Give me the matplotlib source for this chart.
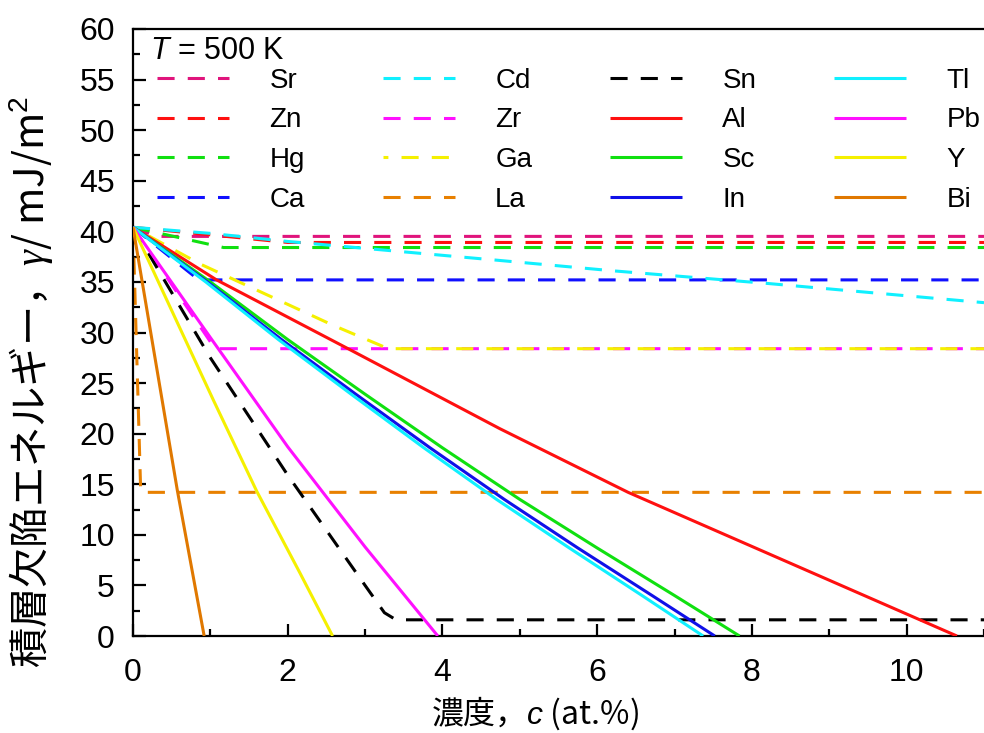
import matplotlib
matplotlib.use("Agg")
import matplotlib.pyplot as plt

plt.rcParams['font.family'] = ['Liberation Sans', 'Noto Sans CJK JP']
plt.rcParams['mathtext.fontset'] = 'custom'
plt.rcParams['mathtext.rm'] = 'Liberation Sans'
plt.rcParams['mathtext.it'] = 'Liberation Sans:italic'
plt.rcParams['mathtext.bf'] = 'Liberation Serif:italic'
plt.rcParams['mathtext.sf'] = 'Liberation Sans'

# ---------------- data (concentration c in at.%, gamma in mJ/m^2) ----------------
sr_c = [0, 0.3, 11];                 sr_g = [40.4, 39.5, 39.5]
zn_c = [0, 2.0, 11];                 zn_g = [40.4, 38.9, 38.9]
hg_c = [0, 0.35, 1.17, 11];          hg_g = [40.4, 39.8, 38.4, 38.4]
ca_c = [0, 0.85, 11];                ca_g = [40.4, 35.2, 35.2]
cd_c = [0, 1, 2, 4.7, 6.2, 8.2, 11]; cd_g = [40.4, 39.8, 39.0, 37.15, 36.1, 34.85, 32.95]
zr_c = [0, 1.06, 11];                zr_g = [40.4, 28.4, 28.4]
ga_c = [0, 0.86, 2.59, 3.3, 11];     ga_g = [40.4, 36.8, 30.7, 28.4, 28.4]
la_c = [0, 0.1, 11];                 la_g = [40.4, 14.2, 14.2]
sn_c = [0, 1.0, 2.0, 3.0, 3.25, 3.4, 11]
sn_g = [40.4, 27.5, 15.9, 5.0, 2.3, 1.6, 1.6]
al_c = [0, 1.08, 2.78, 4.74, 6.4, 10.65];  al_g = [40.4, 35.2, 28.4, 20.5, 14.2, 0]
sc_c = [0, 1, 2, 3, 4, 5, 6, 7, 7.84]
sc_g = [40.4, 35.0, 29.3, 23.9, 18.6, 13.5, 8.7, 4.0, 0]
in_c = [0, 0.96, 1.92, 2.88, 3.84, 4.8, 5.75, 6.71, 7.52]
in_g = [40.4, 35.0, 29.3, 23.9, 18.6, 13.5, 8.7, 4.0, 0]
tl_c = [0, 0.94, 1.88, 2.82, 3.76, 4.7, 5.64, 6.58, 7.37]
tl_g = [40.4, 35.0, 29.3, 23.9, 18.6, 13.5, 8.7, 4.0, 0]
pb_c = [0, 1, 2, 3, 3.94];                 pb_g = [40.4, 29.5, 18.7, 8.8, 0]
y_c = [0, 1.04, 1.60, 2.16, 2.58];         y_g = [40.4, 23.3, 14.3, 6.2, 0]
bi_c = [0, 0.573, 0.92];                   bi_g = [40.4, 14.4, 0]

x_ticks = [0, 2, 4, 6, 8, 10]
y_ticks = [0, 5, 10, 15, 20, 25, 30, 35, 40, 45, 50, 55, 60]

# (label, c, gamma, color, dashed)
series = [
    ("Sr", sr_c, sr_g, "#E0147C", True),
    ("Zn", zn_c, zn_g, "#FF1010", True),
    ("Hg", hg_c, hg_g, "#10E010", True),
    ("Ca", ca_c, ca_g, "#1010FF", True),
    ("Cd", cd_c, cd_g, "#10F0FF", True),
    ("Zr", zr_c, zr_g, "#FF10FF", True),
    ("Ga", ga_c, ga_g, "#F5F000", True),
    ("La", la_c, la_g, "#E88000", True),
    ("Sn", sn_c, sn_g, "#000000", True),
    ("Al", al_c, al_g, "#FF1010", False),
    ("Sc", sc_c, sc_g, "#10E010", False),
    ("In", in_c, in_g, "#1010E8", False),
    ("Tl", tl_c, tl_g, "#10F0FF", False),
    ("Pb", pb_c, pb_g, "#FF10FF", False),
    ("Y", y_c, y_g, "#F5F000", False),
    ("Bi", bi_c, bi_g, "#E07800", False),
]

fig = plt.figure(figsize=(9.84, 7.33), dpi=100)
ax = fig.add_axes([133/984, 1-636/733, 1-133/984, (636-29)/733])

LW = 2.2
handles = []
for lab, c, g, col, dashed in series:
    if dashed:
        off = 4.0 if lab == "Ga" else 0.0
        ln, = ax.plot(c, g, color=col, lw=LW, linestyle=(off, (5.6, 4.3)),
                      label=lab, zorder=2)
    else:
        ln, = ax.plot(c, g, color=col, lw=LW, label=lab, zorder=3)
    ln.set_solid_capstyle('butt')
    ln.set_dash_capstyle('butt')
    handles.append(ln)

ax.set_xlim(0, 11)
ax.set_ylim(0, 60)
ax.set_xticks(x_ticks)
ax.set_yticks(y_ticks)
ax.set_xticks([1, 3, 5, 7, 9, 11], minor=True)
ax.set_yticks([y + 2.5 for y in y_ticks[:-1]], minor=True)
ax.tick_params(which='both', direction='in', width=1.6, labelsize=23,
               top=False, right=False)
ax.tick_params(axis='x', which='major', length=9, pad=16)
ax.tick_params(axis='y', which='major', length=9, pad=13)
ax.tick_params(which='minor', length=5)
for s in ['left', 'bottom', 'top']:
    ax.spines[s].set_linewidth(1.6)
ax.spines['right'].set_visible(False)

ax.set_xlabel("濃度，$c$ (at.%)", fontsize=23, family='Noto Sans CJK JP',
              va='center')
ax.xaxis.set_label_coords(0.472, -0.127)
ax.set_ylabel("積層欠陥エネルギー，$\\mathbf{\\gamma}$/ mJ/m$^2$", fontsize=29,
              family='Noto Sans CJK JP', va='center')
ax.yaxis.set_label_coords(-0.12, 0.418)

ax.text(0.02, 0.9638, "$T$ = 500 K", transform=ax.transAxes, fontsize=22,
        ha='left', va='center')

leg = ax.legend(handles=handles, ncols=4, loc='upper left',
                bbox_to_anchor=(0.0282, 0.936), frameon=False,
                fontsize=20, handlelength=2.6, handletextpad=1.45,
                columnspacing=2.8, labelspacing=0.49, borderpad=0,
                borderaxespad=0)

fig.savefig("out.png", dpi=100)
